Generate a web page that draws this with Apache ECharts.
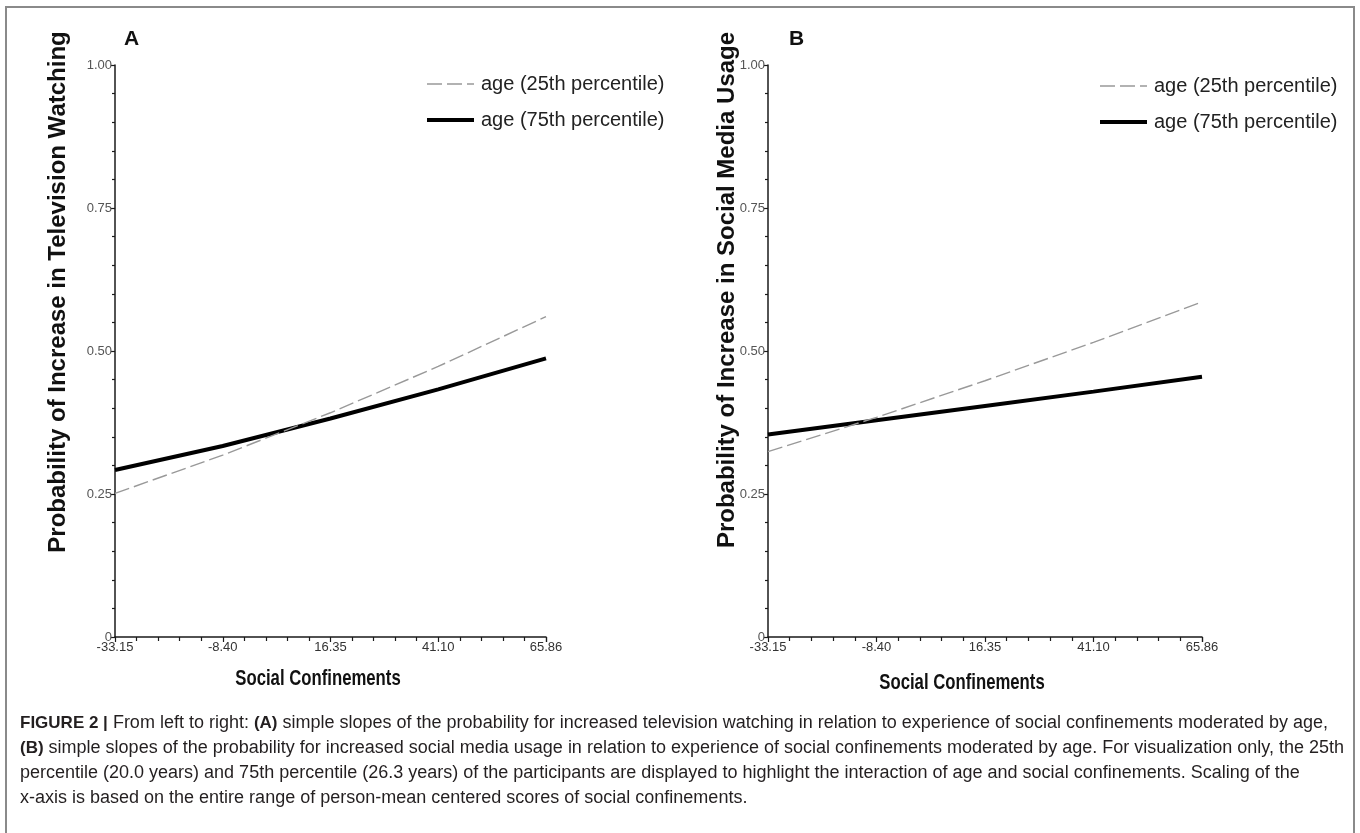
<!DOCTYPE html>
<html>
<head>
<meta charset="utf-8">
<script src="https://cdn.jsdelivr.net/npm/echarts@6/dist/echarts.min.js"></script>
<style>
html,body{margin:0;padding:0;background:#fff;}
#chart{width:1360px;height:833px;}
</style>
</head>
<body>
<div id="chart"></div>
<script>
// ---- data ----
const xTickValues = [-33.15, -8.40, 16.35, 41.10, 65.86];
const xTickLabels = ['-33.15', '-8.40', '16.35', '41.10', '65.86'];
const yTickLabels = ['0', '0.25', '0.50', '0.75', '1.00'];
const seriesNames = ['age (25th percentile)', 'age (75th percentile)'];

// Panel A: television watching
const tvAge25 = [0.251, 0.318, 0.392, 0.473, 0.560];
const tvAge75 = [0.292, 0.334, 0.382, 0.433, 0.487];
// Panel B: social media usage
const smAge25 = [0.324, 0.384, 0.448, 0.515, 0.586];
const smAge75 = [0.354, 0.379, 0.404, 0.429, 0.455];

const panelLetters = ['A', 'B'];
const yTitles = ['Probability of Increase in Television Watching', 'Probability of Increase in Social Media Usage'];
const xTitle = 'Social Confinements';
const captionLines = [
  '{b|FIGURE 2 |} From left to right: {b|(A)} simple slopes of the probability for increased television watching in relation to experience of social confinements moderated by age,',
  '{b|(B)} simple slopes of the probability for increased social media usage in relation to experience of social confinements moderated by age. For visualization only, the 25th',
  'percentile (20.0 years) and 75th percentile (26.3 years) of the participants are displayed to highlight the interaction of age and social confinements. Scaling of the',
  'x-axis is based on the entire range of person-mean centered scores of social confinements.'
];

// ---- chart ----
const FONT = '"Liberation Sans", Arial, Helvetica, sans-serif';
const xMin = xTickValues[0], xMax = xTickValues[xTickValues.length - 1];
const xInterval = (xMax - xMin) / (xTickValues.length - 1);

function pairs(ys) { return xTickValues.map((x, i) => [x, ys[i]]); }
function xLabel(v) {
  let best = 0, d = Infinity;
  xTickValues.forEach((t, i) => { const dd = Math.abs(t - v); if (dd < d) { d = dd; best = i; } });
  return xTickLabels[best];
}
function yLabel(v) {
  const i = Math.round(v / 0.25);
  return yTickLabels[i] !== undefined ? yTickLabels[i] : '';
}

function makeX(idx) {
  return {
    type: 'value', gridIndex: idx, min: xMin, max: xMax, interval: xInterval,
    axisLine: { show: true, onZero: false, lineStyle: { color: '#1a1a1a', width: 1.5 } },
    axisTick: { show: true, length: 5, lineStyle: { color: '#1a1a1a', width: 1.2 } },
    minorTick: { show: true, splitNumber: 5, length: 4, lineStyle: { color: '#1a1a1a', width: 1.2 } },
    splitLine: { show: false }, minorSplitLine: { show: false },
    axisLabel: { formatter: xLabel, color: '#333', fontSize: 13, fontFamily: FONT, margin: 4, showMinLabel: true, showMaxLabel: true }
  };
}
function makeY(idx) {
  return {
    type: 'value', gridIndex: idx, min: 0, max: 1, interval: 0.25,
    axisLine: { show: true, onZero: false, lineStyle: { color: '#1a1a1a', width: 1.5 } },
    axisTick: { show: true, length: 4, lineStyle: { color: '#1a1a1a', width: 1.2 } },
    minorTick: { show: true, splitNumber: 5, length: 3, lineStyle: { color: '#1a1a1a', width: 1.2 } },
    splitLine: { show: false }, minorSplitLine: { show: false },
    axisLabel: { formatter: yLabel, color: '#555', fontSize: 13, fontFamily: FONT, margin: 3 }
  };
}
const dashStyle = { color: '#999999', width: 1.4, type: [15, 5] };
const solidStyle = { color: '#000', width: 4 };
function line(name, x, data, style) {
  return { name, type: 'line', xAxisIndex: x, yAxisIndex: x, data: pairs(data),
    symbol: 'none', showSymbol: false, lineStyle: style, itemStyle: { color: style.color }, z: style.width > 2 ? 3 : 4 };
}
function legend(left, top) {
  return { left, top, orient: 'vertical', selectedMode: false, itemWidth: 47, itemHeight: 14, itemGap: 14,
    itemStyle: { color: 'rgba(0,0,0,0)', borderColor: 'rgba(0,0,0,0)', borderWidth: 0, opacity: 0 },
    textStyle: { fontSize: 20, lineHeight: 22, color: '#222', fontFamily: FONT, padding: [0, 0, 0, 2] },
    data: [
      { name: seriesNames[0], lineStyle: { width: dashStyle.width, type: dashStyle.type, color: dashStyle.color } },
      { name: seriesNames[1], lineStyle: { width: solidStyle.width, color: solidStyle.color } }
    ] };
}

const panelX = [[115, 431], [768, 434]];
const graphics = [
  { type: 'rect', silent: true, shape: { x: 6, y: 7, width: 1348, height: 860 },
    style: { fill: 'none', stroke: '#8a8a8a', lineWidth: 2 } }
];
const letterPos = [[124, 39], [789, 39]];
const yTitlePos = [[58, 292], [727, 290]];
const xTitlePos = [[318, 679], [962, 683]];
for (let i = 0; i < 2; i++) {
  graphics.push({ type: 'text', x: letterPos[i][0], y: letterPos[i][1], silent: true,
    style: { text: panelLetters[i], fontSize: 21, fontWeight: 'bold', fontFamily: FONT, fill: '#111', textAlign: 'left', textVerticalAlign: 'middle' } });
  graphics.push({ type: 'text', x: yTitlePos[i][0], y: yTitlePos[i][1], rotation: Math.PI / 2, silent: true,
    style: { text: yTitles[i], fontSize: 24, fontWeight: 'bold', fontFamily: FONT, fill: '#111', textAlign: 'center', textVerticalAlign: 'middle' } });
  graphics.push({ type: 'text', x: xTitlePos[i][0], y: xTitlePos[i][1], scaleX: 0.76, silent: true,
    style: { text: xTitle, fontSize: 22, fontWeight: 'bold', fontFamily: FONT, fill: '#111', textAlign: 'center', textVerticalAlign: 'middle' } });
}
captionLines.forEach((t, i) => {
  graphics.push({ type: 'text', x: 20, y: 723 + i * 25, silent: true,
    style: { text: t, fontSize: 18, fontFamily: FONT, fill: '#231f20', textAlign: 'left', textVerticalAlign: 'middle',
      rich: { b: { fontSize: 17, fontWeight: 'bold', fontFamily: FONT, fill: '#231f20' } } } });
});

const chart = echarts.init(document.getElementById('chart'), null, { renderer: 'canvas' });
chart.setOption({
  animation: false,
  backgroundColor: '#fff',
  grid: [
    { left: panelX[0][0], top: 65, width: panelX[0][1], height: 572 },
    { left: panelX[1][0], top: 65, width: panelX[1][1], height: 572 }
  ],
  xAxis: [makeX(0), makeX(1)],
  yAxis: [makeY(0), makeY(1)],
  legend: [legend(420, 68), legend(1093, 70)],
  series: [
    line(seriesNames[0], 0, tvAge25, dashStyle),
    line(seriesNames[1], 0, tvAge75, solidStyle),
    line(seriesNames[0], 1, smAge25, dashStyle),
    line(seriesNames[1], 1, smAge75, solidStyle)
  ],
  graphic: graphics
});
</script>
</body>
</html>
